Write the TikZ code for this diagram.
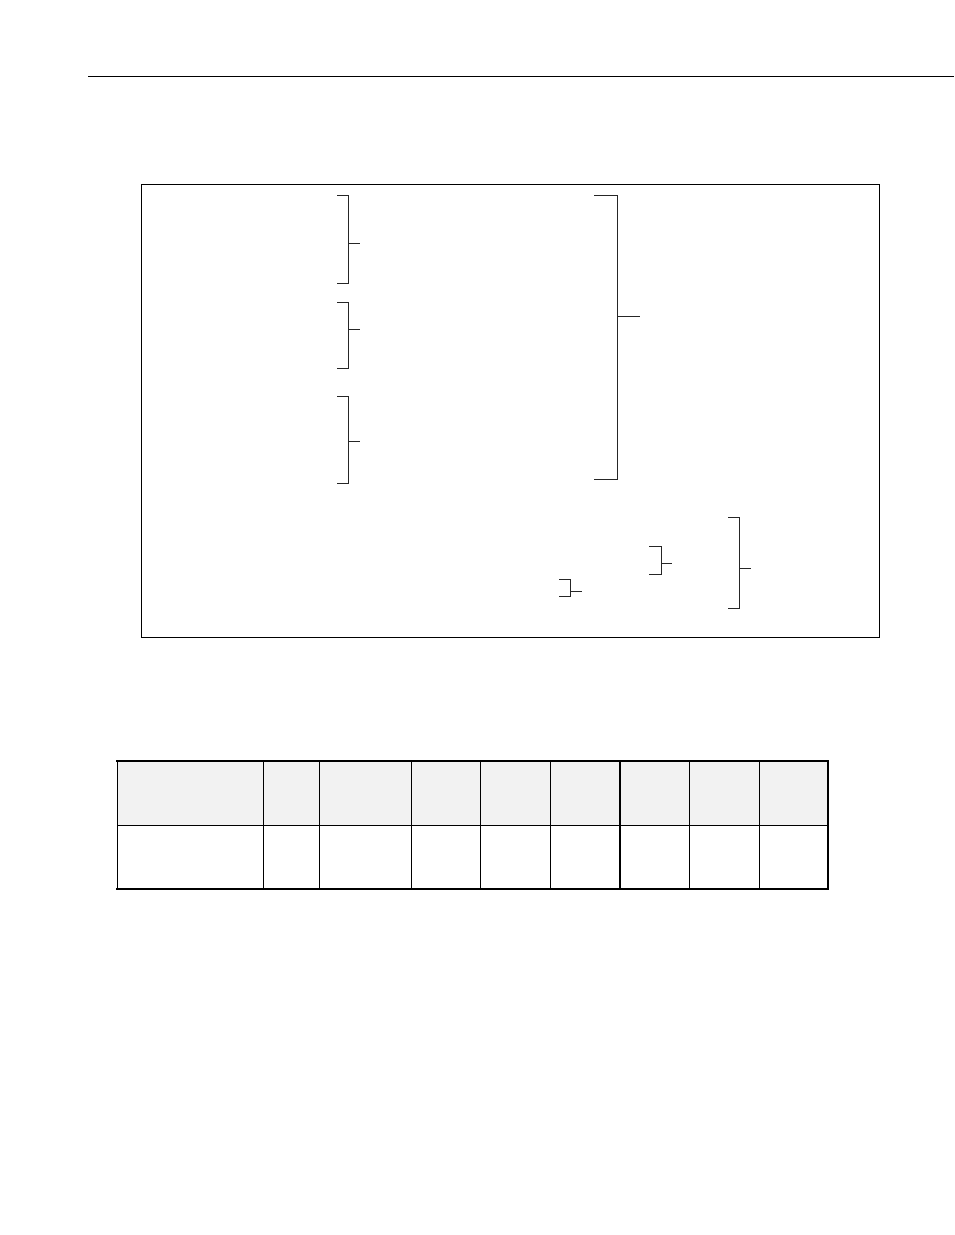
\documentclass[tikz,border=0pt]{standalone}
\begin{document}
\begin{tikzpicture}[x=1pt,y=-1pt,
  thinline/.style={line width=1pt,black},
  brk/.style={line width=1pt,black!85},
  thickline/.style={line width=2pt,black}]
\useasboundingbox (0,0) rectangle (954,1235);
% top rule
\draw[thinline] (88,76) -- (954,76);
% frame
\draw[thinline] (141,184) rectangle (879,637);
% brackets: (x1, x2, ytop, ybot, ystem, xstem)
\newcommand{\brkt}[6]{\draw[brk] (#1,#3) -- (#2,#3) -- (#2,#4) -- (#1,#4); \draw[brk] (#2,#5) -- (#6,#5);}
\brkt{337}{348}{195}{283}{243}{360}
\brkt{337}{348}{302}{368}{329}{360}
\brkt{337}{348}{396}{483}{441}{360}
\brkt{594}{617}{195}{479}{316}{640}
\brkt{559}{570}{579}{596}{591}{582}
\brkt{649}{661}{546}{574}{563}{672}
\brkt{728}{739}{517}{608}{568}{751}
% table
\fill[black!5] (117,761) rectangle (828,825);
\foreach \x in {117,263,319,411,480,550,689,759}
  \draw[thinline] (\x,761) -- (\x,889);
\draw[thickline] (620,761) -- (620,889);
\draw[thickline] (828,761) -- (828,889);
\draw[thinline] (117,825) -- (828,825);
\draw[thickline] (116,761) -- (829,761);
\draw[thickline] (116,889) -- (829,889);
\end{tikzpicture}
\end{document}
